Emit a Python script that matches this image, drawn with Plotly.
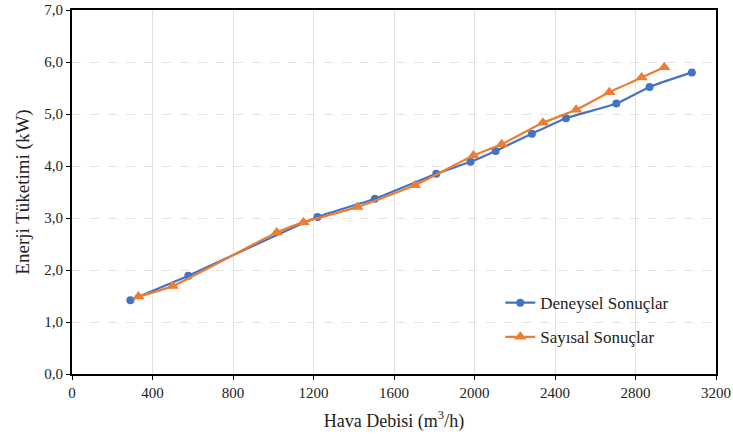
import plotly.graph_objects as go

deney_x = [290, 578, 1220, 1505, 1810, 1980, 2105, 2285, 2455, 2705, 2870, 3080]
deney_y = [1.42, 1.89, 3.02, 3.37, 3.85, 4.08, 4.29, 4.62, 4.92, 5.20, 5.52, 5.80]
sayisal_x = [330, 500, 1017, 1150, 1418, 1704, 1995, 2135, 2340, 2505, 2670, 2830, 2943]
sayisal_y = [1.49, 1.69, 2.72, 2.92, 3.21, 3.63, 4.20, 4.42, 4.83, 5.08, 5.42, 5.70, 5.90]

x_ticks = [0, 400, 800, 1200, 1600, 2000, 2400, 2800, 3200]
y_ticks = [0, 1, 2, 3, 4, 5, 6, 7]
y_labels = ["0,0", "1,0", "2,0", "3,0", "4,0", "5,0", "6,0", "7,0"]

font = "Liberation Serif"

fig = go.Figure()
fig.add_trace(go.Scatter(
    x=deney_x, y=deney_y, name="Deneysel Sonuçlar", mode="lines+markers",
    legendgroup="a",
    line=dict(color="#4472C4", width=2.2, shape="spline", smoothing=0.5),
    marker=dict(symbol="circle", size=8, color="#4472C4"),
))
fig.add_trace(go.Scatter(
    x=sayisal_x, y=sayisal_y, name="Sayısal Sonuçlar", mode="lines+markers",
    legendgroup="b",
    line=dict(color="#ED7D31", width=2.2, shape="spline", smoothing=0.5),
    marker=dict(symbol="triangle-up", size=11, color="#ED7D31"),
))

fig.update_layout(
    width=733, height=439,
    margin=dict(l=72, r=17, t=10, b=65, autoexpand=False),
    paper_bgcolor="white", plot_bgcolor="white",
    font=dict(family=font, size=15, color="#222"),
    legend=dict(x=0.665, y=0.148, xanchor="left", yanchor="middle",
                bgcolor="rgba(0,0,0,0)", font=dict(family=font, size=17, color="#222"),
                tracegroupgap=9),
    xaxis=dict(
        range=[0, 3200], tickvals=x_ticks, ticktext=[str(v) for v in x_ticks],
        showgrid=True, gridcolor="#E3E3E3", gridwidth=1,
        showline=True, linecolor="black", linewidth=2, mirror=True,
        ticks="outside", ticklen=4, tickcolor="black",
        tickfont=dict(family=font, size=15, color="#222"),
        title=dict(text="Hava Debisi (m<sup>3</sup>/h)", font=dict(family=font, size=18, color="#222"), standoff=14),
        zeroline=False,
    ),
    yaxis=dict(
        range=[0, 7], tickvals=y_ticks, ticktext=y_labels,
        showgrid=True, gridcolor="#E3E3E3", gridwidth=1, griddash="dash",
        showline=True, linecolor="black", linewidth=2, mirror=True,
        ticks="outside", ticklen=4, tickcolor="black",
        tickfont=dict(family=font, size=15, color="#222"),
        title=dict(text="Enerji Tüketimi (kW)", font=dict(family=font, size=19, color="#222"), standoff=10),
        zeroline=False,
    ),
)

fig.write_html("out.html")
